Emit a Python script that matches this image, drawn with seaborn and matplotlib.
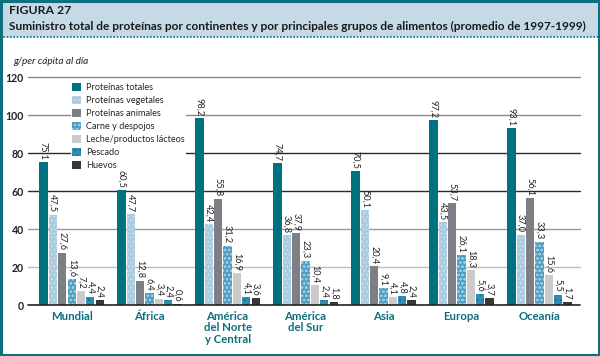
import matplotlib
matplotlib.use("Agg")
import matplotlib.pyplot as plt
import seaborn as sns
import pandas as pd
from matplotlib.patches import Rectangle
from matplotlib.lines import Line2D

categories = ["Mundial", "África", "América\ndel Norte\ny Central", "América\ndel Sur", "Asia", "Europa", "Oceanía"]
series = ["Proteínas totales", "Proteínas vegetales", "Proteínas animales", "Carne y despojos",
          "Leche/productos lácteos", "Pescado", "Huevos"]
totales = [75.1, 60.5, 98.2, 74.7, 70.5, 97.2, 93.1]
vegetales = [47.5, 47.7, 42.4, 36.8, 50.1, 43.5, 37.0]
animales = [27.6, 12.8, 55.8, 37.9, 20.4, 53.7, 56.1]
carne = [13.6, 6.4, 31.2, 23.3, 9.1, 26.1, 33.3]
leche = [7.2, 3.4, 16.9, 10.4, 4.1, 18.3, 15.6]
pescado = [4.4, 2.4, 4.1, 2.4, 4.8, 5.6, 5.5]
huevos = [2.4, 0.6, 3.6, 1.8, 2.4, 3.7, 1.7]
yticks = [0, 20, 40, 60, 80, 100, 120]

values = [totales, vegetales, animales, carne, leche, pescado, huevos]
rows = []
for s, vals in zip(series, values):
    for c, v in zip(categories, vals):
        rows.append({"cat": c, "serie": s, "val": v})
df = pd.DataFrame(rows)

colors = ["#00717f", "#aacbe0", "#7e7f84", "#4d9dc1", "#cbcbcb", "#2f8db3", "#383838"]
hatch_edges = ["#00717f", "#d6e7f1", "#7e7f84", "#9ccbe0", "#cbcbcb", "#0f6a8c", "#383838"]
hatches = [None, "....", None, "oooo", None, "...", None]

sns.set_theme(style="white")
plt.rcParams["font.family"] = ["Lato", "DejaVu Sans"]
plt.rcParams["hatch.linewidth"] = 0.6

fig = plt.figure(figsize=(6.0, 3.56), dpi=100)
W, H = 600, 356

# title band
fig.patches.append(Rectangle((0, 1 - 37 / H), 1, 37 / H, transform=fig.transFigure,
                             facecolor="#c6d9e7", edgecolor="none", zorder=0))
fig.add_artist(Line2D([0, 1], [1 - 37 / H, 1 - 37 / H], transform=fig.transFigure,
                      color="#0e6f80", lw=1.2, ls=(0, (1, 1))))
fig.patches.append(Rectangle((0.002, 0.004), 0.996, 0.993, transform=fig.transFigure,
                             facecolor="none", edgecolor="#0e6f80", lw=2.2, zorder=5))
fig.text(9 / W, 1 - 11 / H, "FIGURA 27", fontsize=8.8, fontweight="bold", color="#1a1a1a", va="center")
fig.text(9 / W, 1 - 26 / H,
         "Suministro total de proteínas por continentes y por principales grupos de alimentos (promedio de 1997-1999)",
         fontsize=8.6, fontweight="bold", color="#1a1a1a", va="center")
fig.text(13 / W, 1 - 62 / H, "g/per cápita al día", fontsize=7.2, style="italic", color="#222", va="center")

ax = fig.add_axes([35 / W, (H - 305) / H, 545 / W, 228 / H])
sns.barplot(data=df, x="cat", y="val", hue="serie", hue_order=series, order=categories,
            palette=colors, width=0.84, gap=0.12, ax=ax, legend=False, zorder=3,
            linewidth=0)

for i, cont in enumerate(ax.containers):
    for bar in cont:
        bar.set_facecolor(colors[i])
        bar.set_edgecolor(hatch_edges[i])
        bar.set_linewidth(0)
        if hatches[i]:
            bar.set_hatch(hatches[i])
    labels = [f"{v:.1f}".replace(".", ",") for v in values[i]]
    for bar, lab in zip(cont, labels):
        x = bar.get_x() + bar.get_width() / 2
        ax.text(x, bar.get_height() + 1.2, lab, rotation=-90, ha="center", va="bottom",
                fontsize=6.6, color="#222", zorder=4)

ax.set_ylim(0, 120)
ax.set_xlim(-0.47, 6.52)
grid_colors = {0: "#222222", 20: "#bbbbbb", 40: "#9a9a9a", 60: "#2a2a2a", 80: "#2a2a2a", 100: "#8a8a8a", 120: "#8a8a8a"}
for y, c in grid_colors.items():
    ax.add_artist(Line2D([-0.012, 1], [y / 120, y / 120], transform=ax.transAxes, color=c,
                         lw=1.0 if y else 1.2, zorder=1 if y else 5, clip_on=False))
ax.set_yticks(yticks)
ax.set_yticklabels([str(t) for t in yticks], fontsize=7.6, fontweight="bold", color="#222")
ax.tick_params(axis="y", length=0, pad=8)
ax.tick_params(axis="x", length=0, pad=4)
ax.set_xticks(range(len(categories)))
ax.set_xticklabels(categories, fontsize=8.2, fontweight="bold", color="#0b6f80", linespacing=1.1, va="top")
ax.set_xlabel("")
ax.set_ylabel("")
for sp in ax.spines.values():
    sp.set_visible(False)
ax.patch.set_alpha(0)

handles = [Rectangle((0, 0), 1, 1, facecolor=colors[i], edgecolor=hatch_edges[i], lw=0,
                     hatch=hatches[i]) for i in range(len(series))]
leg = ax.legend(handles, series, loc="upper left", bbox_to_anchor=(0.066, 0.98), fontsize=6.6,
                frameon=True, facecolor="white", edgecolor="none", framealpha=1, fancybox=False,
                handlelength=0.95, handleheight=0.95, handletextpad=0.5, labelspacing=0.42,
                borderpad=0.15, borderaxespad=0)
leg.set_zorder(6)

fig.savefig("out.png", dpi=100)
